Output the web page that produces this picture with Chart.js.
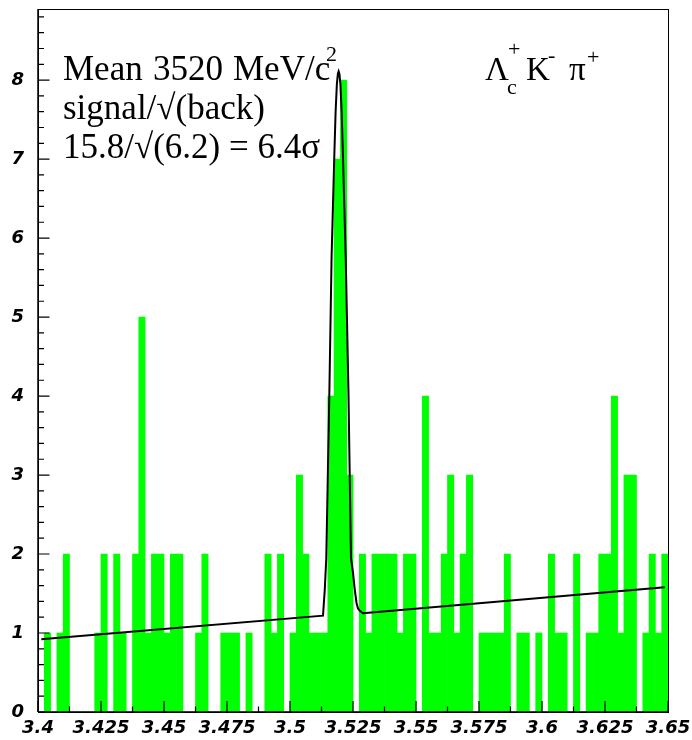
<!DOCTYPE html>
<html>
<head>
<meta charset="utf-8">
<script src="https://cdn.jsdelivr.net/npm/chart.js@4.4.0/dist/chart.umd.min.js"></script>
<style>
  html, body { margin: 0; padding: 0; background: #fff; }
  #wrap { width: 692px; height: 740px; position: relative; }
</style>
</head>
<body>
<div id="wrap"><canvas id="massChart"></canvas></div>
<script>
// histogram: 100 bins of 2.5 MeV from 3.4 to 3.65 GeV
const histLow = 3.4;
const histHigh = 3.65;
const binWidth = 0.0025;
const binCounts = [
  0, 1, 0, 1, 2, 0, 0, 0, 0, 1,
  2, 0, 2, 1, 0, 2, 5, 1, 2, 2,
  1, 2, 2, 0, 0, 1, 2, 0, 0, 1,
  1, 1, 0, 1, 0, 0, 2, 1, 2, 0,
  1, 3, 2, 1, 1, 1, 4, 7, 8, 3,
  0, 2, 1, 2, 2, 2, 2, 1, 2, 2,
  0, 4, 1, 1, 2, 3, 1, 2, 3, 0,
  1, 1, 1, 1, 2, 0, 1, 1, 0, 1,
  0, 2, 1, 1, 0, 2, 0, 1, 1, 2,
  2, 4, 1, 3, 3, 0, 1, 2, 1, 2
];

// fit curve (gaussian + linear background)
const fitX = [3.4013, 3.5131, 3.5138, 3.5144, 3.5156, 3.5165, 3.5176, 3.5181, 3.5186,
              3.5190, 3.5193, 3.5196, 3.5200, 3.5205, 3.5210, 3.5221, 3.5232, 3.5242,
              3.5250, 3.5257, 3.5264, 3.5270, 3.5277, 3.5290, 3.6487];
const fitY = [0.92, 1.22, 1.55, 1.95, 4.0, 5.76, 7.06, 7.6, 7.95,
              8.08, 8.11, 8.08, 7.95, 7.6, 7.06, 5.76, 4.04, 1.95,
              1.76, 1.55, 1.38, 1.31, 1.28, 1.25, 1.58];

const xTickLabels = ['3.4', '3.425', '3.45', '3.475', '3.5', '3.525', '3.55', '3.575', '3.6', '3.625', '3.65'];
const yTickLabels = ['0', '1', '2', '3', '4', '5', '6', '7', '8'];
const yMax = 8.9;

// frame plus inward tick marks, ROOT style
const frameTicks = {
  id: 'frameTicks',
  afterDatasetsDraw(chart) {
    const { ctx, chartArea: a, scales: { x, y } } = chart;
    ctx.save();
    ctx.strokeStyle = '#000';
    ctx.lineWidth = 1;
    ctx.strokeRect(a.left + 0.5, a.top + 0.5, a.right - a.left, a.bottom - a.top);
    ctx.beginPath();
    ctx.lineWidth = 1.5;
    ctx.moveTo(a.left, a.bottom);
    ctx.lineTo(a.right + 1, a.bottom);
    ctx.moveTo(a.left, a.top);
    ctx.lineTo(a.left, a.bottom);
    ctx.stroke();
    ctx.beginPath();
    ctx.lineWidth = 1.2;
    for (let i = 0; i <= 20; i++) {
      const px = x.getPixelForValue(histLow + i * 0.0125);
      const len = i % 2 === 0 ? 11 : 5.5;
      ctx.moveTo(px, a.bottom);
      ctx.lineTo(px, a.bottom - len);
    }
    for (let i = 0; i * 0.2 <= yMax; i++) {
      const py = y.getPixelForValue(i * 0.2);
      const len = i % 5 === 0 ? 11.5 : 6;
      ctx.moveTo(a.left, py);
      ctx.lineTo(a.left + len, py);
    }
    ctx.stroke();
    ctx.restore();
  }
};

// text boxes in the plot
const labels = {
  id: 'labels',
  afterDraw(chart) {
    const ctx = chart.ctx;
    const big = '35px "Liberation Serif"';
    const small = '22px "Liberation Serif"';
    ctx.save();
    ctx.fillStyle = '#000';
    ctx.textBaseline = 'alphabetic';
    ctx.textAlign = 'left';

    ctx.font = big;
    ctx.fillText('Mean', 63, 80);
    ctx.fillText('3520', 153, 80);
    ctx.fillText('MeV/c', 233, 80);
    ctx.font = small;
    ctx.fillText('2', 326, 61);
    ctx.font = big;
    ctx.fillText('signal/\u221A(back)', 63, 119);
    ctx.fillText('15.8/\u221A(6.2) = 6.4\u03C3', 63, 158);

    // Lambda_c+ K- pi+
    const mid = '33px "Liberation Serif"';
    ctx.font = mid;
    ctx.fillText('\u039B', 485, 80);
    ctx.font = small;
    ctx.fillText('c', 507, 94);
    ctx.fillText('+', 508, 56);
    ctx.font = mid;
    ctx.fillText('K', 526, 80);
    ctx.font = small;
    ctx.fillText('-', 548, 62);
    ctx.font = mid;
    ctx.fillText('\u03C0', 569, 80);
    ctx.font = small;
    ctx.fillText('+', 587, 64);
    ctx.restore();
  }
};

const tickFont = { family: '"DejaVu Sans", sans-serif', style: 'italic', weight: 'bold', size: 18 };

new Chart(document.getElementById('massChart'), {
  data: {
    datasets: [
      {
        type: 'line',
        label: 'fit',
        data: fitX.map((v, i) => ({ x: v, y: fitY[i] })),
        borderColor: '#000',
        borderWidth: 2,
        pointRadius: 0,
        tension: 0,
        fill: false,
        order: 0
      },
      {
        type: 'bar',
        label: 'events',
        data: binCounts.map((c, i) => ({ x: histLow + binWidth * (i + 0.5), y: c })),
        backgroundColor: '#00ff00',
        borderWidth: 0,
        barPercentage: 1,
        categoryPercentage: 1,
        grouped: false,
        order: 1
      }
    ]
  },
  options: {
    responsive: true,
    maintainAspectRatio: false,
    animation: false,
    devicePixelRatio: 1,
    layout: { padding: { left: 0, right: 24, top: 9, bottom: 0 } },
    plugins: {
      legend: { display: false },
      tooltip: { enabled: false }
    },
    scales: {
      x: {
        type: 'linear',
        offset: false,
        min: histLow,
        max: histHigh,
        grid: { display: false, drawTicks: false, offset: false },
        border: { display: false },
        afterBuildTicks: s => { s.ticks = xTickLabels.map(l => ({ value: parseFloat(l) })); },
        afterFit: s => { s.height = 28; s.paddingLeft = 0; s.paddingRight = 0; },
        ticks: {
          autoSkip: false,
          maxRotation: 0,
          padding: 6,
          color: '#000',
          font: tickFont,
          callback: (v, i) => xTickLabels[i]
        }
      },
      y: {
        type: 'linear',
        min: 0,
        max: yMax,
        grid: { display: false, drawTicks: false },
        border: { display: false },
        afterBuildTicks: s => { s.ticks = yTickLabels.map(l => ({ value: parseFloat(l) })); },
        afterFit: s => { s.width = 38; s.paddingTop = 0; s.paddingBottom = 0; },
        ticks: {
          padding: 14,
          color: '#000',
          font: tickFont,
          callback: (v, i) => yTickLabels[i]
        }
      }
    }
  },
  plugins: [frameTicks, labels]
});
</script>
</body>
</html>
